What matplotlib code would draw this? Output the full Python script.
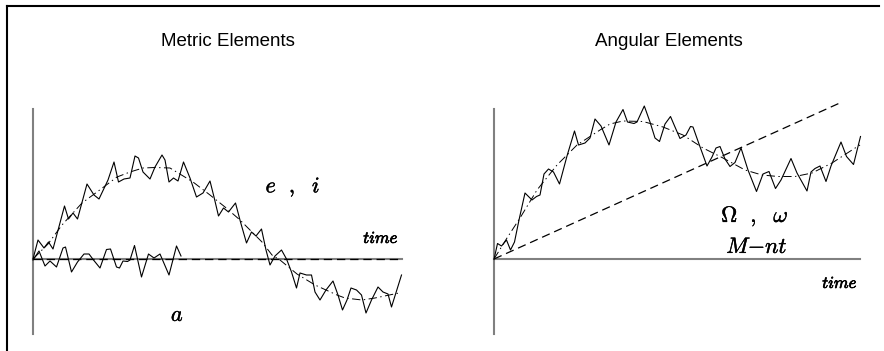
import matplotlib
matplotlib.use("Agg")
import matplotlib.pyplot as plt
import matplotlib.patheffects as pe
from matplotlib.lines import Line2D

plt.rcParams['mathtext.fontset'] = 'cm'
plt.rcParams['lines.scale_dashes'] = False

# ---- metric elements: e, i (noisy + mean) and a (noisy + constant mean)
ei_t = [0.00, 0.05, 0.11, 0.155, 0.20, 0.315, 0.355, 0.40, 0.445, 0.54, 0.61, 0.66,
        0.75, 0.81, 0.855, 0.91, 0.97, 1.02, 1.055, 1.10, 1.17, 1.22, 1.29, 1.32,
        1.36, 1.405, 1.45, 1.505, 1.57, 1.635, 1.70, 1.77, 1.81, 1.855, 1.905, 1.955,
        2.025, 2.075, 2.135, 2.185, 2.23, 2.285, 2.33, 2.37, 2.42, 2.485, 2.535, 2.585,
        2.635, 2.67, 2.735, 2.785, 2.82, 2.87, 2.93, 3.00, 3.05, 3.095, 3.14, 3.18,
        3.235, 3.285, 3.33, 3.385, 3.45, 3.50, 3.55, 3.585, 3.685]
ei_val = [0.00, 0.19, 0.11, 0.17, 0.10, 0.53, 0.40, 0.46, 0.40, 0.75, 0.64, 0.60,
          0.79, 0.97, 0.77, 0.80, 0.81, 1.03, 1.01, 0.87, 0.80, 0.92, 1.04, 0.99,
          0.77, 0.81, 0.78, 0.97, 0.81, 0.62, 0.66, 0.78, 0.62, 0.43, 0.51, 0.47,
          0.56, 0.37, 0.16, 0.27, 0.23, 0.30, 0.09, -0.06, 0.03, 0.09, 0.00, -0.13,
          -0.29, -0.14, -0.16, -0.16, -0.33, -0.41, -0.31, -0.22, -0.36, -0.51, -0.41, -0.29,
          -0.31, -0.36, -0.54, -0.41, -0.28, -0.33, -0.35, -0.48, -0.16]
ei_mean_t = [0.00, 0.15, 0.29, 0.49, 0.64, 0.84, 0.97, 1.10, 1.22, 1.37, 1.60, 1.77,
             1.92, 2.07, 2.17, 2.29, 2.39, 2.47, 2.64, 2.82, 3.04, 3.12, 3.29, 3.42, 3.66]
ei_mean = [0.00, 0.15, 0.34, 0.56, 0.67, 0.82, 0.87, 0.91, 0.915, 0.91, 0.77, 0.64,
           0.52, 0.39, 0.29, 0.17, 0.04, -0.01, -0.15, -0.26, -0.36, -0.39, -0.41, -0.39, -0.34]

a_t = [0.00, 0.06, 0.12, 0.17, 0.235, 0.30, 0.325, 0.385, 0.445, 0.51, 0.56, 0.605,
       0.67, 0.735, 0.775, 0.835, 0.865, 0.90, 0.945, 0.97, 1.015, 1.085, 1.155, 1.21,
       1.27, 1.36, 1.435, 1.48]
a_val = [-0.01, 0.08, -0.07, -0.02, -0.08, 0.11, 0.12, -0.13, -0.03, 0.05, 0.05, -0.01,
         -0.09, 0.095, 0.10, -0.08, -0.09, -0.02, -0.025, -0.01, 0.135, -0.18, 0.05, 0.01,
         0.05, -0.16, 0.13, 0.03]
a_mean_t = [0.00, 3.69]
a_mean = [0.00, 0.00]

# ---- angular elements: Omega, omega (noisy + mean) and M - nt (secular drift)
om_t = [0.00, 0.035, 0.075, 0.125, 0.165, 0.205, 0.25, 0.31, 0.38, 0.425, 0.46, 0.50,
        0.545, 0.595, 0.655, 0.73, 0.805, 0.845, 0.91, 0.96, 1.01, 1.07, 1.15, 1.22,
        1.29, 1.335, 1.40, 1.43, 1.503, 1.56, 1.61, 1.655, 1.71, 1.765, 1.81, 1.86,
        1.92, 1.965, 1.99, 2.05, 2.13, 2.18, 2.22, 2.26, 2.31, 2.36, 2.41, 2.47,
        2.54, 2.625, 2.69, 2.75, 2.815, 2.87, 2.97, 3.03, 3.13, 3.17, 3.21, 3.26,
        3.32, 3.37, 3.47, 3.525, 3.595, 3.665]
om_val = [-0.005, 0.155, 0.13, 0.19, 0.09, 0.17, 0.39, 0.66, 0.59, 0.625, 0.64, 0.85,
          0.90, 0.87, 0.75, 1.03, 1.28, 1.14, 1.16, 1.21, 1.40, 1.33, 1.14, 1.37,
          1.495, 1.37, 1.355, 1.37, 1.53, 1.37, 1.21, 1.175, 1.35, 1.425, 1.32, 1.205,
          1.24, 1.325, 1.32, 1.15, 0.93, 1.02, 1.11, 1.125, 1.00, 0.925, 0.965, 1.11,
          0.89, 0.675, 0.85, 0.875, 0.705, 0.79, 1.005, 0.86, 0.68, 0.87, 0.905, 0.93,
          0.775, 0.93, 1.17, 1.025, 0.945, 1.225]
om_mean_t = [0.00, 0.13, 0.26, 0.43, 0.63, 0.83, 1.06, 1.16, 1.29, 1.49, 1.69, 1.89,
             2.09, 2.29, 2.51, 2.68, 2.84, 3.01, 3.18, 3.38, 3.58, 3.66]
om_mean = [0.00, 0.21, 0.41, 0.69, 0.94, 1.14, 1.29, 1.35, 1.38, 1.375, 1.32, 1.24,
           1.11, 1.01, 0.89, 0.84, 0.825, 0.825, 0.86, 0.96, 1.09, 1.14]
mnt_t = [0.00, 3.48]
mnt_val = [0.00, 1.57]

W, H = 884, 351
fig = plt.figure(figsize=(W / 100, H / 100), dpi=100)

# frame lines along the top and left edge
fig.add_artist(Line2D([7 / W, 7 / W], [0, 1 - 6 / H], color='black', lw=1.5))
fig.add_artist(Line2D([7 / W, 879 / W], [1 - 6 / H, 1 - 6 / H], color='black', lw=1.5))


def make_axes(x0, x1, tmax):
    ax = fig.add_axes([x0 / W, (H - 334) / H, (x1 - x0) / W, 225 / H])
    ax.set_xlim(0, tmax)
    ax.set_ylim(-0.75, 1.50)
    for s in ('top', 'right'):
        ax.spines[s].set_visible(False)
    ax.spines['bottom'].set_position(('data', 0))
    for s in ('left', 'bottom'):
        ax.spines[s].set_color('#808080')
        ax.spines[s].set_linewidth(1.5)
    ax.set_xticks([])
    ax.set_yticks([])
    ax.patch.set_visible(False)
    return ax


noisy = dict(color='black', lw=0.8, clip_on=False, zorder=3)
dashdot = dict(color='black', lw=0.7, linestyle=(0, (6, 2.5, 1, 2.5)), clip_on=False, zorder=3)
dashed = dict(color='black', lw=0.9, linestyle=(0, (6, 3.5)), clip_on=False, zorder=3)
math_kw = dict(fontsize=16, ha='center', va='center',
               path_effects=[pe.withStroke(linewidth=0.3, foreground='black')])
time_kw = dict(fontsize=12, ha='center', va='center',
               path_effects=[pe.withStroke(linewidth=0.5, foreground='black')])

ax1 = make_axes(33, 402, 3.69)
ax1.plot(a_mean_t, a_mean, **dashed)
ax1.plot(ei_mean_t, ei_mean, **dashdot)
ax1.plot(ei_t, ei_val, **noisy)
ax1.plot(a_t, a_val, **noisy)
ax1.text(2.60, 0.72, r'$e\ \ ,\ \ i$', **math_kw)
ax1.text(1.445, -0.56, r'$a$', **math_kw)
ax1.text(3.48, 0.21, r'$time$', **time_kw)

ax2 = make_axes(494, 860, 3.66)
ax2.plot(mnt_t, mnt_val, **dashed)
ax2.plot(om_mean_t, om_mean, **dashdot)
ax2.plot(om_t, om_val, **noisy)
ax2.text(2.61, 0.42, r'$\Omega\ \ ,\ \ \omega$', **math_kw)
ax2.text(2.63, 0.12, r'$M{-}nt$', **math_kw)
ax2.text(3.46, -0.24, r'$time$', **time_kw)

title_kw = dict(fontsize=13.5, family='Liberation Sans', ha='center', va='center')
fig.text(228 / W, 1 - 42 / H, 'Metric Elements', **title_kw)
fig.text(669 / W, 1 - 42 / H, 'Angular Elements', **title_kw)

fig.savefig('out.png', dpi=100)
